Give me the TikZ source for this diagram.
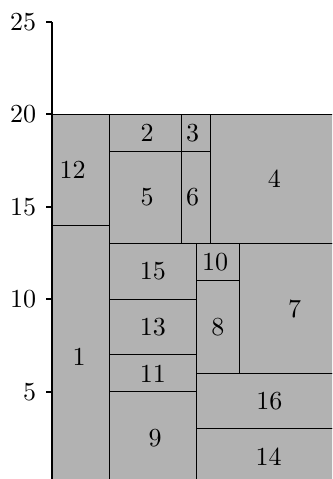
\documentclass[tikz,border=0pt]{standalone}

\tikzset{
  box/.style={draw=black, fill=gray!60},
  axis/.style={thick}
}

\begin{document}
\begin{tikzpicture}[x=0.1953cm, y=0.25cm]
            \path[use as bounding box, clip] (-3.58,0.29) rectangle (19.4,26.18);

            \draw[box] (0,0) rectangle (4,14);
            \draw[box] (0,14) rectangle (4,20);
            \draw[box] (4,18) rectangle (9,20);
            \draw[box] (9,18) rectangle (11,20);
            \draw[box] (4,13) rectangle (9,18);
            \draw[box] (9,13) rectangle (11,18);
            \draw[box] (11,13) rectangle (20,20);
            \draw[box] (4,10) rectangle (10,13);
            \draw[box] (10,11) rectangle (13,13);
            \draw[box] (10,6) rectangle (13,11);
            \draw[box] (13,6) rectangle (20,13);
            \draw[box] (4,7) rectangle (10,10);
            \draw[box] (4,5) rectangle (10,7);
            \draw[box] (4,0) rectangle (10,5);
            \draw[box] (10,3) rectangle (20,6);
            \draw[box] (10,0) rectangle (20,3);

            \node (r1) at (1.9,6.9) {1};
            \node (r12) at (1.45,17) {12};
            \node (r2) at (6.6,19) {2};
            \node (r3) at (9.75,19) {3};
            \node (r5) at (6.6,15.5) {5};
            \node (r6) at (9.75,15.5) {6};
            \node (r4) at (15.4,16.5) {4};
            \node (r15) at (7,11.5) {15};
            \node (r10) at (11.3,12) {10};
            \node (r8) at (11.5,8.5) {8};
            \node (r7) at (16.8,9.5) {7};
            \node (r13) at (7,8.5) {13};
            \node (r11) at (7,6) {11};
            \node (r9) at (7.15,2.5) {9};
            \node (r16) at (15.05,4.5) {16};
            \node (r14) at (15,1.5) {14};

            \draw[axis] (0,0) -- (0,25);
            \foreach \y in {5,10,...,25}
                \draw[axis] (0,\y) -- ++(-2.3pt,0) node[left] (t\y) {\y};
        \end{tikzpicture}
\end{document}
